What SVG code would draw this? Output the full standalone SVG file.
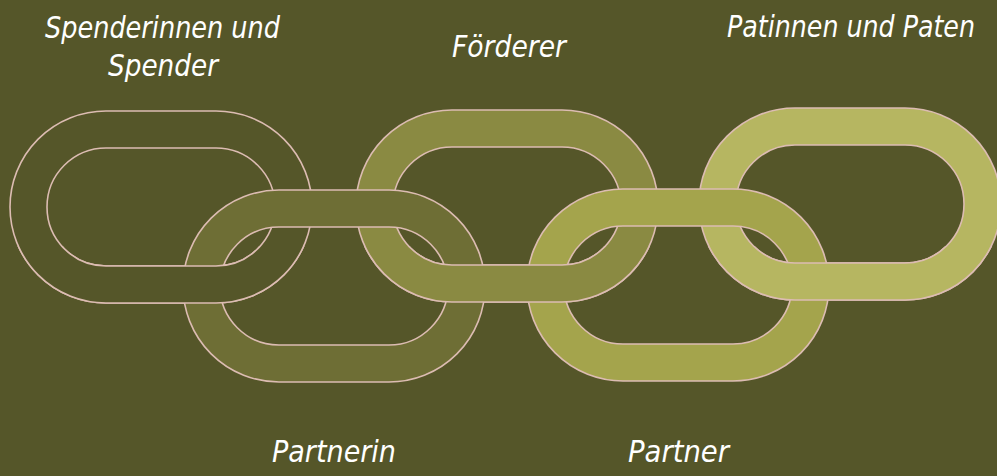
<svg xmlns="http://www.w3.org/2000/svg" xmlns:xlink="http://www.w3.org/1999/xlink" width="997" height="476" viewBox="0 0 997 476">
  <style>
    .ring { stroke: #dcbcb2; stroke-width: 1.6; fill-rule: evenodd; }
    .l1 { fill: #555629; }
    .l2 { fill: #6e6e35; }
    .l3 { fill: #8a8a42; }
    .l4 { fill: #a4a44c; }
    .l5 { fill: #b6b661; }
    .lbl { fill: #ffffff; font-family: "DejaVu Sans Condensed", "DejaVu Sans", sans-serif; font-style: italic; font-size: 30px; }
  </style>
  <defs>
    <path id="link" d="M96,0 H206 A96,96 0 0 1 206,192 H96 A96,96 0 0 1 96,0 Z M96,37 H206 A59,59 0 0 1 206,155 H96 A59,59 0 0 1 96,37 Z"/>
    <clipPath id="lower">
      <rect x="0" y="246" width="997" height="230"/>
    </clipPath>
  </defs>
  <rect width="997" height="476" fill="#555629"/>

  <g id="node-spender">
    <use xlink:href="#link" href="#link" class="ring l1" transform="translate(10,111)"/>
    <text class="lbl" x="45" y="38" textLength="235" lengthAdjust="spacingAndGlyphs">Spenderinnen und</text>
    <text class="lbl" x="108" y="76" textLength="110" lengthAdjust="spacingAndGlyphs">Spender</text>
  </g>
  <g id="node-foerderer">
    <use xlink:href="#link" href="#link" class="ring l3" transform="translate(356,110)"/>
    <text class="lbl" x="452" y="57" textLength="114" lengthAdjust="spacingAndGlyphs">Förderer</text>
  </g>
  <g id="node-paten">
    <use xlink:href="#link" href="#link" class="ring l5" transform="translate(699,108)"/>
    <text class="lbl" x="727" y="37" textLength="248" lengthAdjust="spacingAndGlyphs">Patinnen und Paten</text>
  </g>
  <g id="node-partnerin">
    <use xlink:href="#link" href="#link" class="ring l2" transform="translate(183,190)"/>
    <text class="lbl" x="272" y="462" textLength="124" lengthAdjust="spacingAndGlyphs">Partnerin</text>
  </g>
  <g id="node-partner">
    <use xlink:href="#link" href="#link" class="ring l4" transform="translate(527,189)"/>
    <text class="lbl" x="628" y="462" textLength="101" lengthAdjust="spacingAndGlyphs">Partner</text>
  </g>

  <g id="connectors" clip-path="url(#lower)">
    <use xlink:href="#link" href="#link" class="ring l1" transform="translate(10,111)"/>
    <use xlink:href="#link" href="#link" class="ring l3" transform="translate(356,110)"/>
    <use xlink:href="#link" href="#link" class="ring l5" transform="translate(699,108)"/>
  </g>
</svg>
